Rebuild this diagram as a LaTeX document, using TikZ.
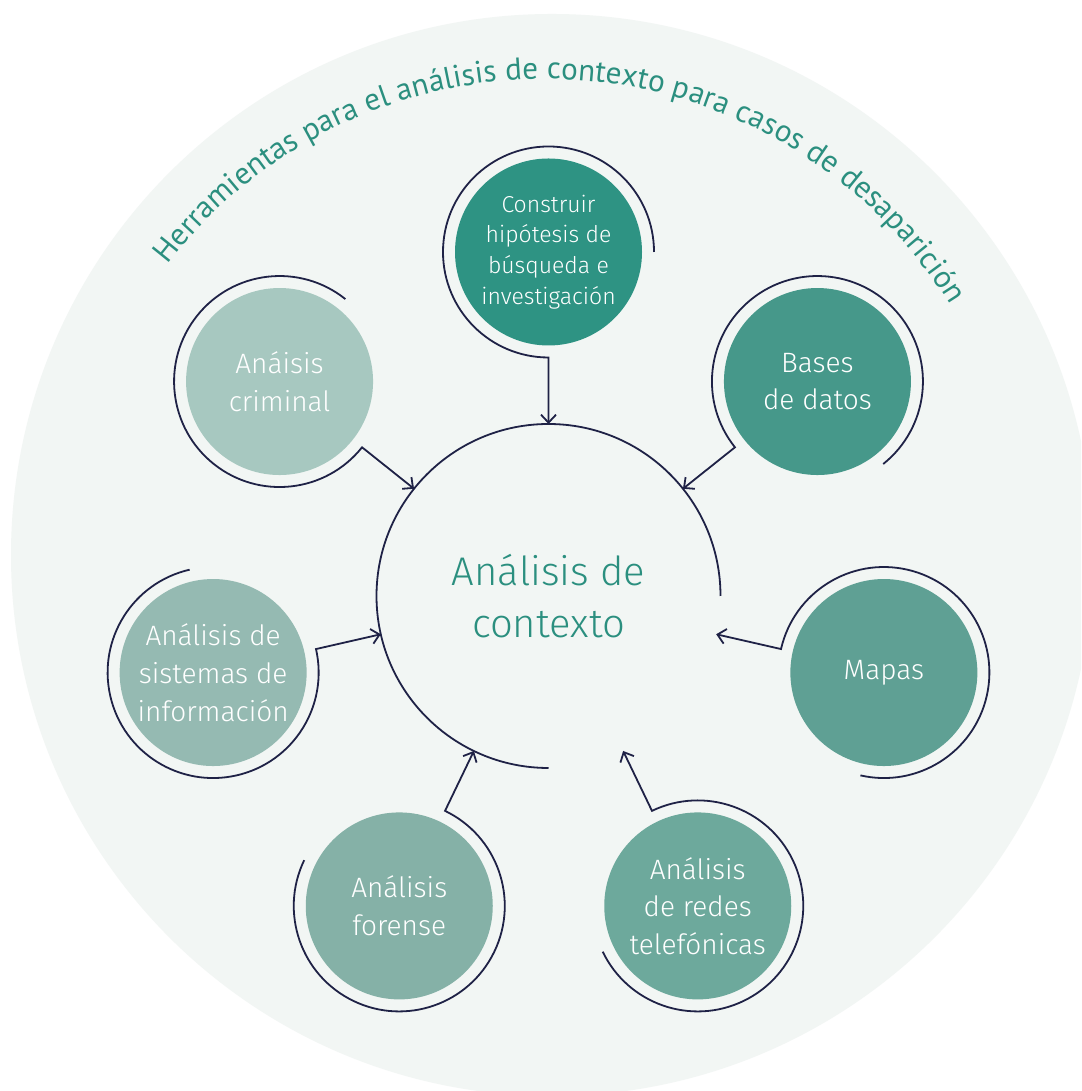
\documentclass[tikz,border=0pt]{standalone}
\usepackage{fontspec}
\setmainfont{Fira Sans Light}
\newfontfamily\titlefont{PT Sans}
\usetikzlibrary{arrows.meta,calc,decorations.text}
\definecolor{bgc}{HTML}{F2F6F4}
\definecolor{navy}{HTML}{1F2246}
\definecolor{teal1}{HTML}{2B8F7F}
\definecolor{s1c}{HTML}{2E9383}
\definecolor{s2c}{HTML}{46988A}
\definecolor{s3c}{HTML}{5FA094}
\definecolor{s4c}{HTML}{6DA99C}
\definecolor{s5c}{HTML}{85B1A7}
\definecolor{s6c}{HTML}{95BAB2}
\definecolor{s7c}{HTML}{A7C8C0}
\begin{document}
\begin{tikzpicture}[x=1pt,y=1pt,
  ring/.style={draw=navy, line width=1.8pt},
  conn/.style={ring, -{Straight Barb[length=8pt,width=15pt]}},
  sat/.style={circle, minimum size=187pt, inner sep=0pt, text=white, align=center,
    font=\fontsize{28}{37.7}\selectfont},
]
\clip (0,0) rectangle (1081,1091);
\fill[white] (0,0) rectangle (1081,1091);
\fill[bgc] (552,536) circle[radius=541pt];
\path[decorate, decoration={text along path,
    text={|\titlefont\fontsize{31}{36}\selectfont|Herramientas para el análisis de contexto para casos de desaparición},
    text color=teal1, text align={fit to path}}]
  ($(545,536)+(142.4:476)$) arc[start angle=142.4, end angle=31.7, radius=476pt];

\node[circle, minimum size=344pt, inner sep=0pt, text=teal1, align=center,
  font=\fontsize{40}{52}\selectfont] (ctr) at (548.5,495) {Análisis de\\contexto};
\draw[ring] ($(ctr.center)+(0:172)$) arc[start angle=0, end angle=270, radius=172pt];

\node[sat, fill=s1c, font=\fontsize{23}{30.7}\selectfont] (s1) at ($(ctr.center)+(90:344)$) {Construir\\hipótesis de\\búsqueda e\\investigación};
\node[sat, fill=s2c] (s2) at ($(ctr.center)+(38.571:344)$) {Bases\\de datos};
\node[sat, fill=s3c] (s3) at ($(ctr.center)+(-12.857:344)$) {Mapas};
\node[sat, fill=s4c] (s4) at ($(ctr.center)+(-64.286:344)$) {Análisis\\de redes\\telefónicas};
\node[sat, fill=s5c] (s5) at ($(ctr.center)+(-115.714:344)$) {Análisis\\forense};
\node[sat, fill=s6c] (s6) at ($(ctr.center)+(-167.143:344)$) {Análisis de\\sistemas de\\información};
\node[sat, fill=s7c] (s7) at ($(ctr.center)+(-218.571:344)$) {Anáisis\\criminal};

\foreach \n/\a in {s1/90, s2/38.571, s3/-12.857, s4/-64.286, s5/-115.714, s6/-167.143, s7/-218.571} {
  \pgfmathsetmacro\sa{\a+270}
  \pgfmathsetmacro\ea{\a+540}
  \draw[conn] ($(\n.center)+(\sa:105.5)$) arc[start angle=\sa, end angle=\ea, radius=105.5pt]
    -- ($(ctr.center)+(\a:172)$);
}
\end{tikzpicture}
\end{document}
